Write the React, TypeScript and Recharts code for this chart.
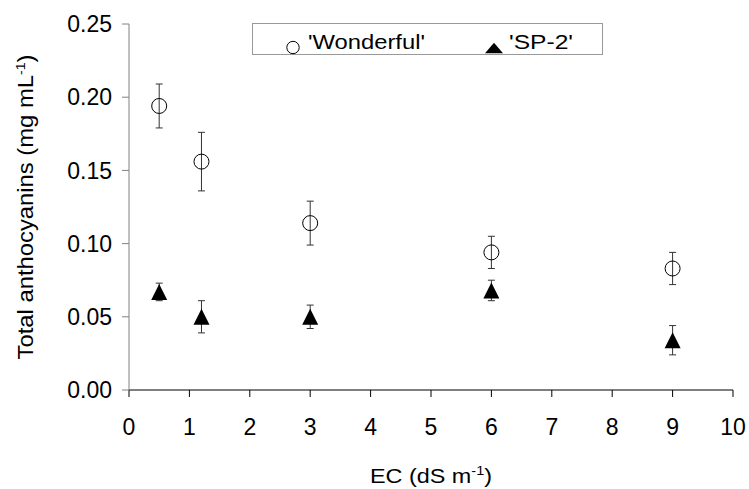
import { ErrorBar, Label, Legend, Scatter, ScatterChart, XAxis, YAxis } from "recharts";

const FONT = "'Liberation Sans', Arial, sans-serif";

// EC levels (dS m-1) and anthocyanin means with error bars per cultivar
const ecLevels = [0.5, 1.2, 3, 6, 9];
const wonderfulMean = [0.194, 0.156, 0.114, 0.094, 0.083];
const wonderfulErr = [0.015, 0.02, 0.015, 0.011, 0.011];
const sp2Mean = [0.067, 0.05, 0.05, 0.068, 0.034];
const sp2Err = [0.006, 0.011, 0.008, 0.007, 0.01];

const xTicks = [0, 1, 2, 3, 4, 5, 6, 7, 8, 9, 10];
const yTicks = [0, 0.05, 0.1, 0.15, 0.2, 0.25];

const wonderfulData = ecLevels.map((x, i) => ({ x, y: wonderfulMean[i], err: wonderfulErr[i] }));
const sp2Data = ecLevels.map((x, i) => ({ x, y: sp2Mean[i], err: sp2Err[i] }));

const OpenCircle = (props: any) => (
  <circle cx={props.cx} cy={props.cy} r={7.5} fill="none" stroke="#000" strokeWidth={1} />
);

const FilledTriangle = (props: any) => {
  const { cx, cy } = props;
  return <path d={`M${cx},${cy - 8} L${cx + 8},${cy + 8} L${cx - 8},${cy + 8} Z`} fill="#000" />;
};

const LegendBox = () => (
  <svg width={351} height={32} style={{ display: "block" }}>
    <rect x={0.5} y={0.5} width={350} height={31} fill="#fff" stroke="#999" />
    <circle cx={41} cy={24.5} r={6.2} fill="none" stroke="#000" />
    <text x={56} y={26.3} fontSize={20} fontFamily={FONT} textLength={117} lengthAdjust="spacingAndGlyphs">
      'Wonderful'
    </text>
    <path d="M242,19.7 L251,30.3 L233,30.3 Z" fill="#000" />
    <text x={257} y={26.3} fontSize={20} fontFamily={FONT} textLength={64} lengthAdjust="spacingAndGlyphs">
      'SP-2'
    </text>
  </svg>
);

const YTitle = ({ viewBox }: any) => {
  const cx = 33;
  const cy = viewBox.y + viewBox.height / 2;
  return (
    <text
      x={cx}
      y={cy}
      transform={`rotate(-90, ${cx}, ${cy})`}
      textAnchor="middle"
      fontSize={22}
      fontFamily={FONT}
      fill="#000"
      textLength={305}
      lengthAdjust="spacingAndGlyphs"
    >
      Total anthocyanins (mg mL
      <tspan fontSize={13} dy={-8}>-1</tspan>
      <tspan dy={8}>)</tspan>
    </text>
  );
};

const XTitle = ({ viewBox }: any) => {
  const cx = viewBox.x + viewBox.width / 2;
  return (
    <text
      x={cx}
      y={483}
      textAnchor="middle"
      fontSize={21}
      fontFamily={FONT}
      fill="#000"
      textLength={122}
      lengthAdjust="spacingAndGlyphs"
    >
      EC (dS m
      <tspan fontSize={13} dy={-8}>-1</tspan>
      <tspan dy={8}>)</tspan>
    </text>
  );
};

export default function App() {
  return (
    <div style={{ position: "absolute", left: 0, top: 0, background: "#fff" }}>
      <ScatterChart width={749} height={489} margin={{ top: 24, right: 16, bottom: 0, left: 0 }}>
        <XAxis
          type="number"
          dataKey="x"
          domain={[0, 10]}
          ticks={xTicks}
          interval={0}
          height={99}
          stroke="#000"
          tickSize={7}
          tickMargin={22}
          tick={{ fontSize: 23, fill: "#000", fontFamily: FONT }}
        >
          <Label content={<XTitle />} />
        </XAxis>
        <YAxis
          type="number"
          dataKey="y"
          domain={[0, 0.25]}
          ticks={yTicks}
          interval={0}
          width={129}
          stroke="#808080"
          tickSize={7}
          tickMargin={10}
          tickFormatter={(v: number) => v.toFixed(2)}
          tick={{ fontSize: 23, fill: "#000", fontFamily: FONT }}
        >
          <Label content={<YTitle />} />
        </YAxis>
        <Legend
          layout="horizontal"
          verticalAlign="middle"
          align="center"
          content={() => <LegendBox />}
          wrapperStyle={{ top: 23, left: 252, width: 351, height: 32 }}
        />
        <Scatter name="'Wonderful'" data={wonderfulData} shape={<OpenCircle />} isAnimationActive={false}>
          <ErrorBar dataKey="err" direction="y" width={3.5} stroke="#333" strokeWidth={1} />
        </Scatter>
        <Scatter name="'SP-2'" data={sp2Data} shape={<FilledTriangle />} isAnimationActive={false}>
          <ErrorBar dataKey="err" direction="y" width={3.5} stroke="#333" strokeWidth={1} />
        </Scatter>
      </ScatterChart>
    </div>
  );
}
